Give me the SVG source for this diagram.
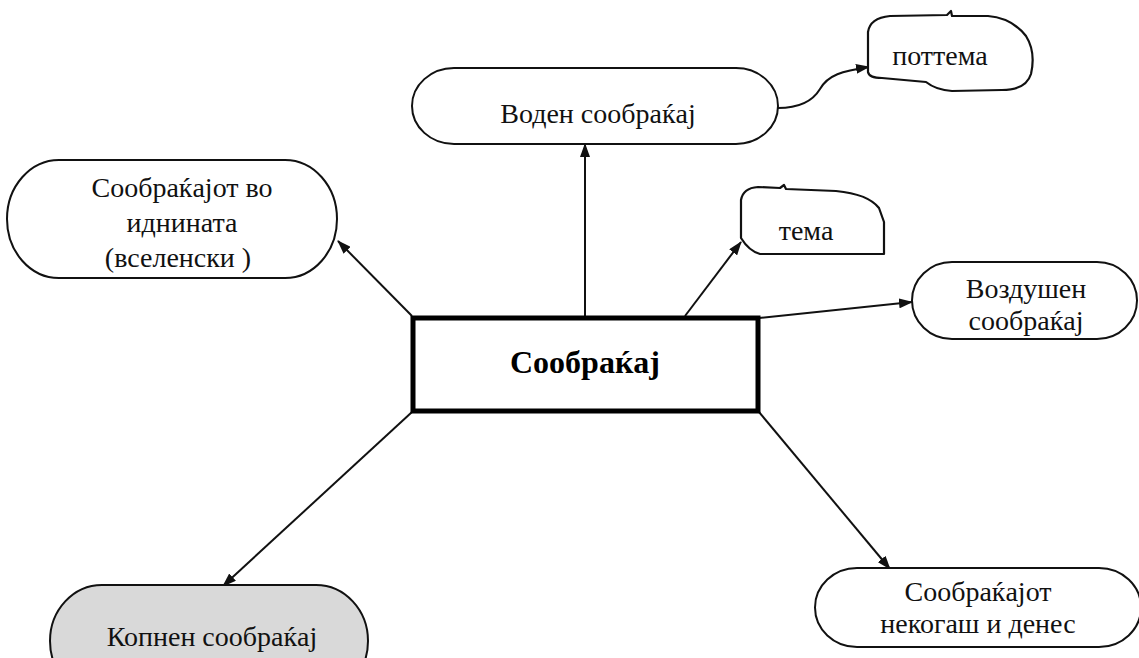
<svg xmlns="http://www.w3.org/2000/svg" width="1139" height="658" viewBox="0 0 1139 658">
<defs>
<style>
.nd{fill:#fff;stroke:#111;stroke-width:2}
.gr{fill:#d9d9d9;stroke:#111;stroke-width:2}
.bl{fill:#fff;stroke:#111;stroke-width:2.2;stroke-linejoin:round}
.ctr{fill:#fff;stroke:#000;stroke-width:5}
.t{font-family:"Liberation Serif","Times New Roman",serif;font-size:28px;fill:#111;text-anchor:middle}
.tb{font-family:"Liberation Serif","Times New Roman",serif;font-size:32px;font-weight:bold;fill:#000;text-anchor:middle}
.c{fill:none;stroke:#111;stroke-width:2;marker-end:url(#ah)}
</style>
<marker id="ah" markerUnits="userSpaceOnUse" markerWidth="14" markerHeight="10" refX="13" refY="5" orient="auto">
<path d="M0,0 L14,5 L0,10 z" fill="#111"/>
</marker>
</defs>
<rect width="1139" height="658" fill="#fff"/>
<g id="connectors">
<line class="c" x1="585" y1="316" x2="585" y2="144"/>
<line class="c" x1="412" y1="316" x2="338" y2="241"/>
<line class="c" x1="685" y1="316" x2="741" y2="242"/>
<line class="c" x1="759" y1="318" x2="912" y2="302"/>
<line class="c" x1="412" y1="412" x2="223" y2="586"/>
<line class="c" x1="759" y1="412" x2="890" y2="569"/>
<path class="c" d="M778,108 C803,108 814,99 820,89 C828,75 842,71 869,67"/>
</g>
<g id="node-center">
<rect class="ctr" x="413" y="318" width="345" height="93"/>
<text class="tb" x="585" y="373">Сообраќај</text>
</g>
<g id="node-voden">
<rect class="nd" x="412" y="68" width="366" height="76" rx="42" ry="38"/>
<text class="t" x="598" y="123">Воден сообраќај</text>
</g>
<g id="node-pottema">
<path class="bl" d="M868,72 L868,32 Q870,18 890,16 L947,15 L951,11 L952,16 L988,16 Q1012,18 1026,36 Q1036,52 1031,74 Q1026,90 1002,90 L952,91 Q936,90 926,82 L882,78 Q869,78 868,72 Z"/>
<text class="t" x="940" y="65">поттема</text>
</g>
<g id="node-idnina">
<rect class="nd" x="7" y="160" width="330" height="118" rx="52" ry="59"/>
<text class="t" x="182" y="197">Сообраќајот во</text>
<text class="t" x="182" y="232">иднината</text>
<text class="t" x="178" y="267">(вселенски )</text>
</g>
<g id="node-tema">
<path class="bl" d="M741,238 L741,200 Q743,188 758,187 L780,188 L784,185 L786,189 L836,191 Q868,194 879,208 L884,222 L884,254 L760,254 Q749,251 741,238 Z"/>
<text class="t" x="806" y="240">тема</text>
</g>
<g id="node-vozdushen">
<rect class="nd" x="912" y="262" width="225" height="77" rx="40" ry="38.5"/>
<text class="t" x="1026" y="298">Воздушен</text>
<text class="t" x="1026" y="330">сообраќај</text>
</g>
<g id="node-kopnen">
<rect class="gr" x="50" y="585" width="318" height="112" rx="52" ry="56"/>
<text class="t" x="212" y="646">Копнен сообраќај</text>
</g>
<g id="node-nekogash">
<rect class="nd" x="815" y="568" width="326" height="79" rx="42" ry="39.5"/>
<text class="t" x="978" y="601">Сообраќајот</text>
<text class="t" x="978" y="633">некогаш и денес</text>
</g>
</svg>
